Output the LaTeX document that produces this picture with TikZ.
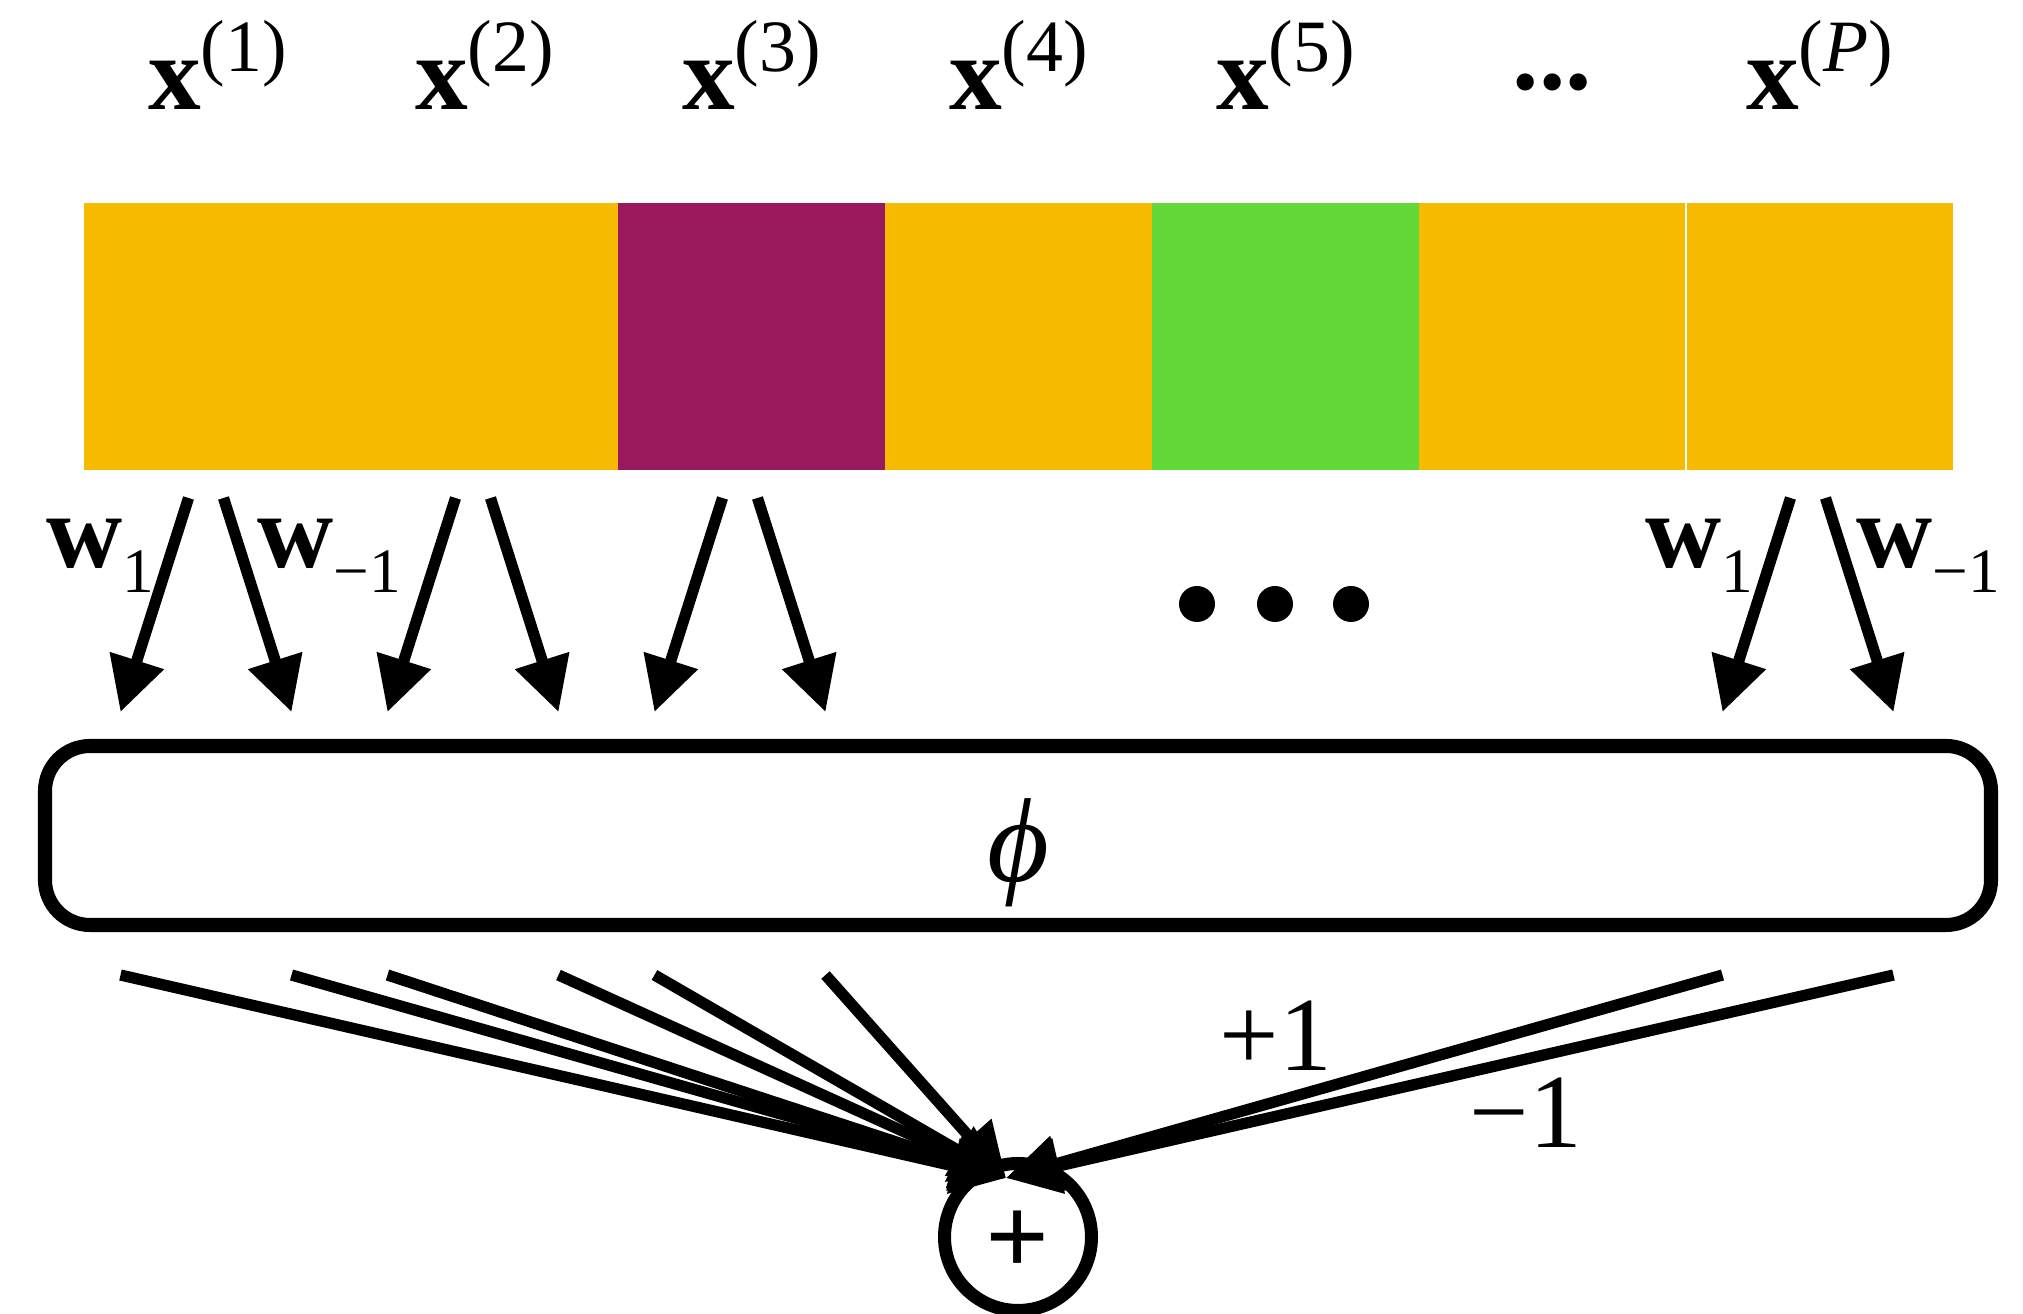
\documentclass[tikz,border=0pt]{standalone}
\usepackage{fontspec}
\setmainfont{Liberation Serif}
\usetikzlibrary{calc,arrows.meta}

\newcommand{\upidx}[1]{\raisebox{11pt}{\fontsize{21}{21}\selectfont #1}}
\newcommand{\dnidx}[1]{\raisebox{-7pt}{\fontsize{18}{18}\selectfont #1}}

\definecolor{cellyellow}{RGB}{246,186,0}
\definecolor{cellpurple}{RGB}{154,24,94}
\definecolor{cellgreen}{RGB}{98,217,54}

\begin{document}
\begin{tikzpicture}[font=\fontsize{30}{36}\selectfont,
  cellbox/.style={minimum size=2.67cm, inner sep=0pt, outer sep=0pt},
  warrow/.style={line width=3.2pt, -{Triangle[length=0.54cm,width=0.54cm]}}]
  \useasboundingbox (0,0) rectangle (20.23,13.14);
  % input cells
  \foreach \i/\col in {1/cellyellow,2/cellyellow,3/cellpurple,4/cellyellow,5/cellgreen,6/cellyellow,7/cellyellow}
    \node[cellbox, fill=\col] (c\i) at ({0.84+2.67*(\i-0.5)},9.775) {};
  \draw[white, line width=0.5pt] (c6.north east) -- (c6.south east);
  % cell labels
  \foreach \i/\t in {1/1,2/2,3/3,4/4,5/5,7/\textit{P}}
    \node[anchor=base, inner sep=0pt] (x\i) at ($(c\i.north)+(0,0.93)$) {\textbf{x}\upidx{(\t)}};
  \node[anchor=base, inner sep=0pt] (x6) at ($(c6.north)+(0,0.93)$) {\raisebox{0.2cm}{\textbf{...}}};
  % feature map and sum
  \node[draw, line width=4pt, rounded corners=0.45cm, minimum width=19.46cm,
        minimum height=1.79cm, inner sep=0pt] (phi) at (10.18,4.785)
    {\raisebox{-0.46cm}[0pt][0pt]{\fontsize{34}{34}\selectfont\textit{ϕ}}};
  \node[circle, draw, line width=3.7pt, minimum size=1.47cm, inner sep=0pt] (sum) at (10.18,0.77)
    {\raisebox{-0.38cm}[0pt][0pt]{\fontsize{32}{32}\selectfont\textbf{+}}};
  \coordinate (hub) at ($(sum.center)+(-0.12,0.59)$);
  % weights
  \foreach \i in {1,2,3,7} {
    \coordinate (a\i) at ($(c\i.south)+(-0.29,-0.28)$);
    \coordinate (b\i) at ($(c\i.south)+(0.06,-0.28)$);
    \coordinate (ta\i) at ($(c\i.south)+(-0.97,-2.42)$);
    \coordinate (tb\i) at ($(c\i.south)+(0.74,-2.42)$);
    \draw[warrow] (a\i) -- (ta\i);
    \draw[warrow] (b\i) -- (tb\i);
    \coordinate (ua\i) at ($(ta\i |- phi.south)+(0,-0.43)$);
    \coordinate (ub\i) at ($(tb\i |- phi.south)+(0,-0.43)$);
    \draw[warrow] (ua\i) -- (hub);
    \draw[warrow] (ub\i) -- (hub);
  }
  \foreach \x in {11.97,12.75,13.51}
    \fill (\x,7.10) circle (0.18);
  \node[anchor=base west, inner sep=0pt] (w1l) at (0.46,7.46) {\textbf{w}\dnidx{1}};
  \node[anchor=base west, inner sep=0pt] (w2l) at (2.57,7.46) {\textbf{w}\dnidx{−1}};
  \node[anchor=base west, inner sep=0pt] (w1r) at (16.45,7.46) {\textbf{w}\dnidx{1}};
  \node[anchor=base west, inner sep=0pt] (w2r) at (18.56,7.46) {\textbf{w}\dnidx{−1}};
  \node[anchor=base, inner sep=0pt] (pone) at (12.76,2.43) {+1};
  \node[anchor=base, inner sep=0pt] (mone) at (15.26,1.66) {−1};
\end{tikzpicture}
\end{document}
